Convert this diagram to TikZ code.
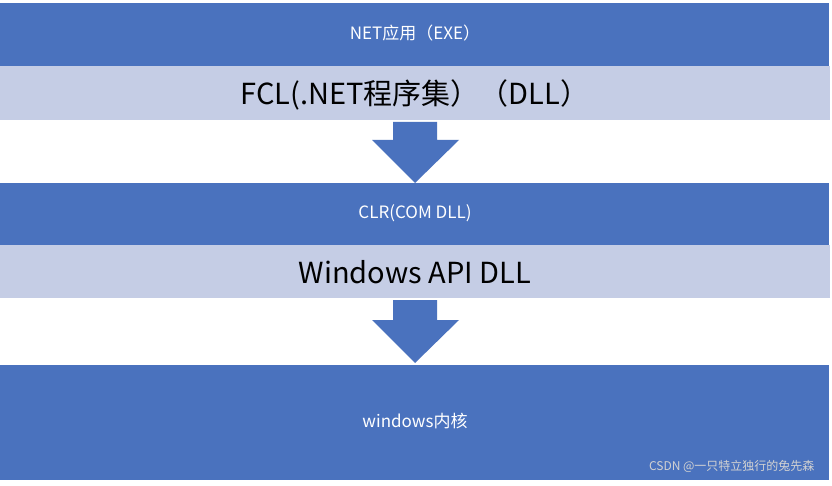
\documentclass[tikz,border=0pt]{standalone}
\usepackage{fontspec}
\setmainfont{Noto Sans CJK SC}
\definecolor{bandblue}{HTML}{4A72BE}
\definecolor{bandlight}{HTML}{C5CDE5}
\begin{document}
\begin{tikzpicture}[x=1pt,y=-1pt,
  blueband/.style={fill=bandblue,draw=none},
  lightband/.style={fill=bandlight,draw=none},
  smalltxt/.style={text=white,font=\fontsize{17}{20}\selectfont},
  bigtxt/.style={text=black,font=\fontsize{29}{34}\selectfont},
  downarrow/.style={fill=bandblue,draw=none}]
\useasboundingbox (0,0) rectangle (832,486);
\fill[white] (0,0) rectangle (832,486);
\path[blueband] (0,3) rectangle (829,66);
\path[lightband] (0,66) rectangle (830,120);
\path[blueband] (0,183) rectangle (829,245);
\path[lightband] (0,245) rectangle (830,298);
\path[blueband] (0,365) rectangle (829,480);
\path[downarrow] (393,122) -- (437,122) -- (437,140) -- (459,140) -- (415,183) -- (372,140) -- (393,140) -- cycle;
\path[downarrow] (393,300) -- (437,300) -- (437,320) -- (459,320) -- (415,363) -- (372,320) -- (393,320) -- cycle;
\node[smalltxt] (t1) at (415,33) {NET应用（EXE）};
\node[bigtxt] (t2) at (415,95) {FCL(.NET程序集）（DLL）};
\node[smalltxt] (t3) at (415,213) {CLR(COM DLL)};
\node[bigtxt] (t4) at (415,272) {Windows API DLL};
\node[smalltxt] (t5) at (415,421) {windows内核};
\node[text=gray!35,font=\fontsize{12}{14}\selectfont,anchor=east] (wm) at (818,466) {CSDN @一只特立独行的兔先森};
\end{tikzpicture}
\end{document}
